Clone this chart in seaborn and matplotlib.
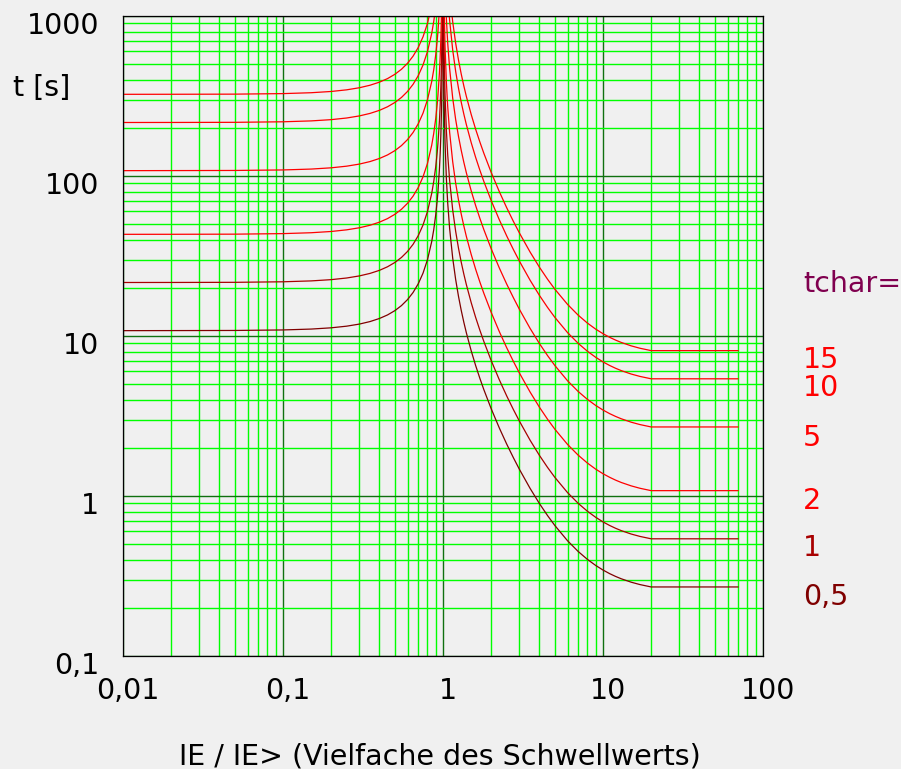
import numpy as np
import pandas as pd
import matplotlib
matplotlib.use("Agg")
import matplotlib.pyplot as plt
import matplotlib.ticker as mticker
from matplotlib.transforms import ScaledTranslation
import seaborn as sns

# Strom-Vielfache (I / I>) links und rechts der Anregung
I_links = [0.01, 0.02, 0.05, 0.1, 0.15, 0.2, 0.25, 0.3, 0.35, 0.4, 0.45, 0.5,
           0.55, 0.6, 0.65, 0.7, 0.75, 0.8, 0.85, 0.875, 0.9, 0.92, 0.93,
           0.95, 0.96, 0.97, 0.98, 0.99, 0.995]
I_rechts = [1.004, 1.006, 1.01, 1.015, 1.02, 1.03, 1.05, 1.07, 1.1, 1.15,
            1.2, 1.25, 1.3, 1.35, 1.4, 1.5, 1.6, 1.7, 1.8, 2, 2.25, 2.5,
            2.75, 3, 3.5, 4, 4.5, 5, 6, 7, 8, 9, 10, 11, 12, 13, 15, 17,
            20, 70]

# Zeiten t [s] je tchar (links / rechts)
t_05_l = [10.80, 10.81, 10.83, 10.91, 11.05, 11.25, 11.52, 11.87, 12.31, 12.86,
          13.54, 14.40, 15.49, 16.88, 18.70, 21.18, 24.69, 30.00, 38.92, 46.08,
          56.84, 70.31, 79.94, 110.8, 137.8, 182.7, 272.7, 542.7, 1083]
t_05_r = [1223, 814.9, 488.1, 324.7, 243.0, 161.3, 95.90, 67.90, 46.94, 30.65,
          22.53, 17.68, 14.46, 12.17, 10.46, 8.090, 6.530, 5.435, 4.623, 3.514,
          2.659, 2.113, 1.740, 1.471, 1.117, 0.899, 0.755, 0.654, 0.5255,
          0.4498, 0.4012, 0.3681, 0.3446, 0.3272, 0.3141, 0.3039, 0.2893,
          0.2796, 0.2701, 0.2701]
t_1_l = [21.60, 21.61, 21.65, 21.82, 22.10, 22.50, 23.04, 23.74, 24.62, 25.71,
         27.08, 28.80, 30.97, 33.75, 37.40, 42.35, 49.37, 60.00, 77.84, 92.16,
         113.7, 140.6, 159.9, 221.5, 275.5, 365.5, 545.5, 1085, 2165]
t_1_r = [2447, 1630, 976.1, 649.3, 485.9, 322.5, 191.8, 135.8, 93.87, 61.30,
         45.06, 35.35, 28.91, 24.33, 20.92, 16.18, 13.06, 10.87, 9.245, 7.028,
         5.318, 4.226, 3.479, 2.942, 2.234, 1.798, 1.510, 1.308, 1.051, 0.8995,
         0.8023, 0.7361, 0.6891, 0.6544, 0.6281, 0.6077, 0.5785, 0.5591,
         0.5401, 0.5401]
t_2_l = [43.20, 43.22, 43.30, 43.64, 44.20, 45.00, 46.08, 47.47, 49.23, 51.43,
         54.17, 57.60, 61.94, 67.50, 74.81, 84.71, 98.74, 120.0, 155.7, 184.3,
         227.4, 281.3, 319.8, 443.1, 551.0, 730.9, 1091, 2171, 4331]
t_2_r = [4894, 3260, 1952, 1299, 971.8, 645.0, 383.6, 271.6, 187.7, 122.6,
         90.12, 70.70, 57.82, 48.66, 41.84, 32.36, 26.12, 21.74, 18.49, 14.06,
         10.64, 8.452, 6.958, 5.884, 4.468, 3.596, 3.020, 2.616, 2.102, 1.799,
         1.605, 1.472, 1.378, 1.309, 1.256, 1.215, 1.157, 1.118, 1.080, 1.080]
t_5_l = [108.0, 108.1, 108.3, 109.1, 110.5, 112.5, 115.2, 118.7, 123.1, 128.6,
         135.4, 144.0, 154.9, 168.8, 187.0, 211.8, 246.9, 300.0, 389.2, 460.8,
         568.4, 703.1, 799.4, 1108, 1378, 1827, 2727, 5427, 10827]
t_5_r = [12235, 8149, 4881, 3247, 2430, 1613, 959.0, 679.0, 469.4, 306.5,
         225.3, 176.8, 144.6, 121.7, 104.6, 80.90, 65.30, 54.35, 46.23, 35.14,
         26.59, 21.13, 17.40, 14.71, 11.17, 8.990, 7.550, 6.540, 5.255, 4.498,
         4.012, 3.681, 3.446, 3.272, 3.141, 3.039, 2.893, 2.796, 2.701, 2.701]
t_10_l = [216.0, 216.1, 216.5, 218.2, 221.0, 225.0, 230.4, 237.4, 246.2, 257.1,
          270.8, 288.0, 309.7, 337.5, 374.0, 423.5, 493.7, 600.0, 778.4, 921.6,
          1137, 1406, 1599, 2215, 2755, 3655, 5455, 10850, 21650]
t_10_r = [24470, 16300, 9761, 6493, 4859, 3225, 1918, 1358, 938.7, 613.0,
          450.6, 353.5, 289.1, 243.3, 209.2, 161.8, 130.6, 108.7, 92.45, 70.28,
          53.18, 42.26, 34.79, 29.42, 22.34, 17.98, 15.10, 13.08, 10.51, 8.995,
          8.023, 7.361, 6.891, 6.544, 6.281, 6.077, 5.785, 5.591, 5.401, 5.401]
t_15_l = [324.0, 324.2, 324.8, 327.3, 331.5, 337.5, 345.6, 356.1, 369.3, 385.7,
          406.2, 432.0, 464.6, 506.3, 561.0, 635.3, 740.6, 900.0, 1168, 1382,
          1706, 2109, 2399, 3323, 4133, 5483, 8183, 16280, 32480]
t_15_r = [36700, 24450, 14640, 9740, 7289, 4838, 2877, 2037, 1408, 919.5,
          675.9, 530.3, 433.7, 365.0, 313.8, 242.7, 195.9, 163.1, 138.7, 105.4,
          79.77, 63.39, 52.19, 44.13, 33.51, 26.97, 22.65, 19.62, 15.77, 13.49,
          12.03, 11.04, 10.34, 9.816, 9.422, 9.116, 8.678, 8.387, 8.102, 8.102]

tchar_namen = ["0,5", "1", "2", "5", "10", "15"]
kurven = [t_05_l + t_05_r, t_1_l + t_1_r, t_2_l + t_2_r,
          t_5_l + t_5_r, t_10_l + t_10_r, t_15_l + t_15_r]
farben = {"0,5": "#800000", "1": "#a80000", "2": "#ff0000",
          "5": "#ff0000", "10": "#ff0000", "15": "#ff0000"}

x_ticks = [0.01, 0.1, 1, 10, 100]
x_labels = ["0,01", "0,1", "1", "10", "100"]
y_ticks = [0.1, 1, 10, 100, 1000]
y_labels = ["0,1", "1", "10", "100", "1000"]

I_alle = I_links + I_rechts
df = pd.concat([pd.DataFrame({"I": I_alle, "t": t, "tchar": n})
                for n, t in zip(tchar_namen, kurven)], ignore_index=True)

bg = "#f0f0f0"
sns.set_style("white", {"axes.facecolor": bg, "figure.facecolor": bg})
plt.rcParams["font.family"] = ["DejaVu Sans"]
plt.rcParams["text.color"] = "black"

fs = 20.5
fig = plt.figure(figsize=(9.01, 7.69), dpi=100)
ax = fig.add_axes([123 / 901, 1 - 656 / 769, 640 / 901, 640 / 769])

sns.lineplot(data=df, x="I", y="t", hue="tchar", palette=farben,
             estimator=None, sort=True, linewidth=0.9, legend=False, ax=ax)

ax.set_xscale("log")
ax.set_yscale("log")
ax.set_xlim(0.01, 100)
ax.set_ylim(0.1, 1000)

ax.xaxis.set_minor_locator(mticker.LogLocator(base=10, subs=np.arange(2, 10)))
ax.yaxis.set_minor_locator(mticker.LogLocator(base=10, subs=np.arange(2, 10)))
ax.xaxis.set_minor_formatter(mticker.NullFormatter())
ax.yaxis.set_minor_formatter(mticker.NullFormatter())
ax.set_xticks(x_ticks)
ax.set_xticklabels(x_labels)
ax.set_yticks(y_ticks)
ax.set_yticklabels(y_labels)

ax.set_axisbelow(True)
ax.grid(which="minor", color="#00ff00", linewidth=1.0)
ax.grid(which="major", color="#107010", linewidth=1.0)
ax.tick_params(which="both", length=0, labelsize=fs, colors="black")
ax.tick_params(axis="x", pad=15)
ax.tick_params(axis="y", pad=17)

for lab in ax.get_xticklabels():
    lab.set_transform(lab.get_transform() + ScaledTranslation(0.05, 0, fig.dpi_scale_trans))
for lab in ax.get_yticklabels():
    lab.set_transform(lab.get_transform() + ScaledTranslation(0, -0.07, fig.dpi_scale_trans))

for sp in ax.spines.values():
    sp.set_visible(True)
    sp.set_color("black")
    sp.set_linewidth(0.9)

ax.set_xlabel("")
ax.set_ylabel("")

fig.text(13 / 901, 1 - 96 / 769, "t [s]", fontsize=fs, color="black",
         ha="left", va="baseline")
fig.text(440 / 901, 1 - 764 / 769, "IE / IE> (Vielfache des Schwellwerts)",
         fontsize=fs, color="black", ha="center", va="baseline")

fig.text(803 / 901, 1 - 292 / 769, "tchar=", fontsize=fs, color="#80004f",
         ha="left", va="baseline")
label_y = {"15": 368, "10": 396, "5": 446, "2": 509, "1": 556, "0,5": 605}
for n in tchar_namen:
    fig.text(803 / 901, 1 - label_y[n] / 769, n, fontsize=fs, color=farben[n],
             ha="left", va="baseline")

fig.savefig("out.png", dpi=100, facecolor=bg)
